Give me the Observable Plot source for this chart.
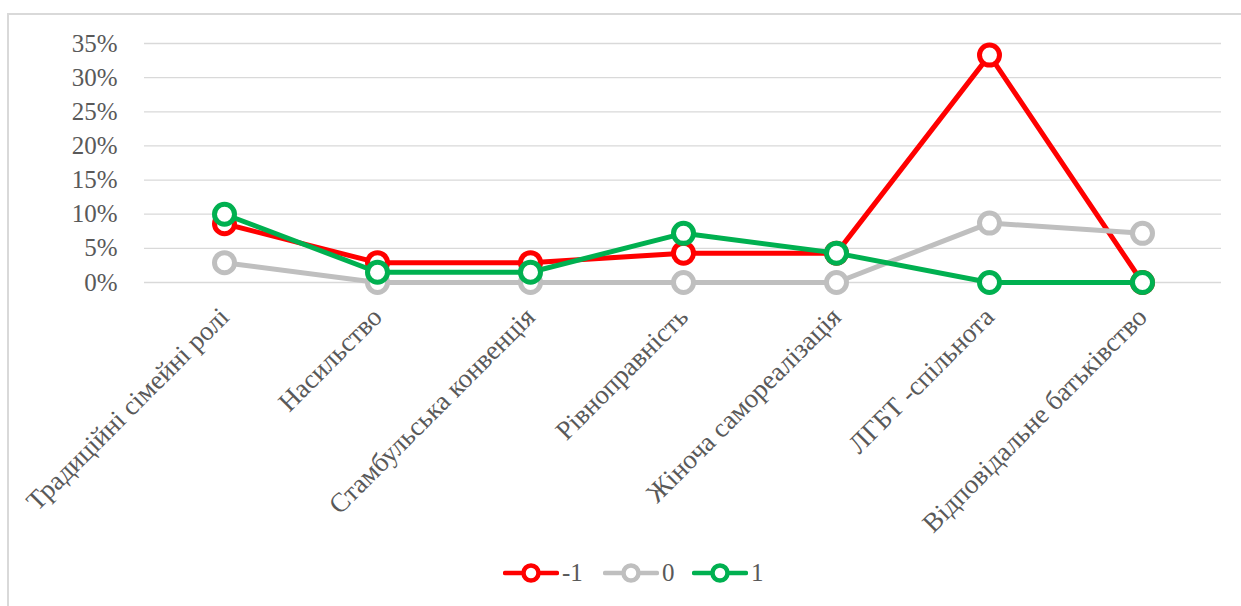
<!DOCTYPE html>
<html><head><meta charset="utf-8">
<script src="https://cdn.jsdelivr.net/npm/d3@7"></script>
<script src="https://cdn.jsdelivr.net/npm/@observablehq/plot@0.6"></script>
<style>
body{margin:0;background:#fff;overflow:hidden;font-family:"Liberation Serif","Times New Roman",serif;}
#frame{position:absolute;left:7px;top:13px;width:1400px;height:800px;border-left:2px solid #d9d9d9;border-top:2px solid #d9d9d9;pointer-events:none;}
#legend{position:relative;height:40px;width:1241px;}
.item{position:absolute;top:0;height:36px;display:flex;align-items:center;}
.item span{font-size:25px;color:#595959;margin-left:3px;line-height:36px;}
</style></head><body>
<div id="chart"></div>
<div id="legend"></div>
<div id="frame"></div>
<script>
const categories = ["Традиційні сімейні ролі","Насильство","Стамбульська конвенція","Рівноправність","Жіноча самореалізація","ЛГБТ -спільнота","Відповідальне батьківство"];
const seriesNames = ["-1","0","1"];
const seriesColors = ["#ff0000","#bfbfbf","#00b050"];
const valuesMinus1 = [0.086,0.029,0.029,0.043,0.043,0.333,0];
const values0 = [0.029,0,0,0,0,0.087,0.072];
const values1 = [0.100,0.015,0.015,0.072,0.043,0,0];
const yTicks = [0,0.05,0.10,0.15,0.20,0.25,0.30,0.35];

const allValues = [valuesMinus1, values0, values1];
const seriesRows = allValues.map((vals, si) => categories.map((c, i) => ({cat: c, value: vals[i], series: seriesNames[si]})));

const marks = [
  Plot.gridY(yTicks, {stroke:"#d9d9d9", strokeOpacity:1, strokeWidth:1.3}),
  Plot.axisY({ticks: yTicks, tickFormat: d3.format(".0%"), tickSize:0, tickPadding:27, fontSize:25, label:null}),
  Plot.axisX({tickRotate:-45, tickSize:0, tickPadding:30, fontSize:27, label:null})
];
seriesRows.forEach((rows, si) => {
  marks.push(Plot.line(rows, {x:"cat", y:"value", stroke: seriesColors[si], strokeWidth:5, strokeLinejoin:"round"}));
  marks.push(Plot.dot(rows, {x:"cat", y:"value", r:10, stroke: seriesColors[si], strokeWidth:5, fill:"white"}));
});

const chart = Plot.plot({
  width: 1241,
  height: 555,
  marginLeft: 144,
  marginRight: 20,
  marginTop: 43,
  marginBottom: 273,
  style: {fontFamily:'"Liberation Serif","Times New Roman",serif', color:"#595959", background:"transparent"},
  x: {type:"point", domain: categories, padding:0.5, label:null},
  y: {domain:[0,0.35], label:null},
  marks
});
document.getElementById("chart").appendChild(chart);

const legendLefts = [503, 603, 692];
const legend = document.getElementById("legend");
seriesNames.forEach((name, i) => {
  const item = document.createElement("div");
  item.className = "item";
  item.style.left = legendLefts[i] + "px";
  item.innerHTML = `<svg width="56" height="36"><line x1="2" x2="54" y1="18" y2="18" stroke="${seriesColors[i]}" stroke-width="4.5" stroke-linecap="round"/><circle cx="28" cy="18" r="7.5" fill="white" stroke="${seriesColors[i]}" stroke-width="4.5"/></svg><span>${name}</span>`;
  legend.appendChild(item);
});
</script>
</body></html>
